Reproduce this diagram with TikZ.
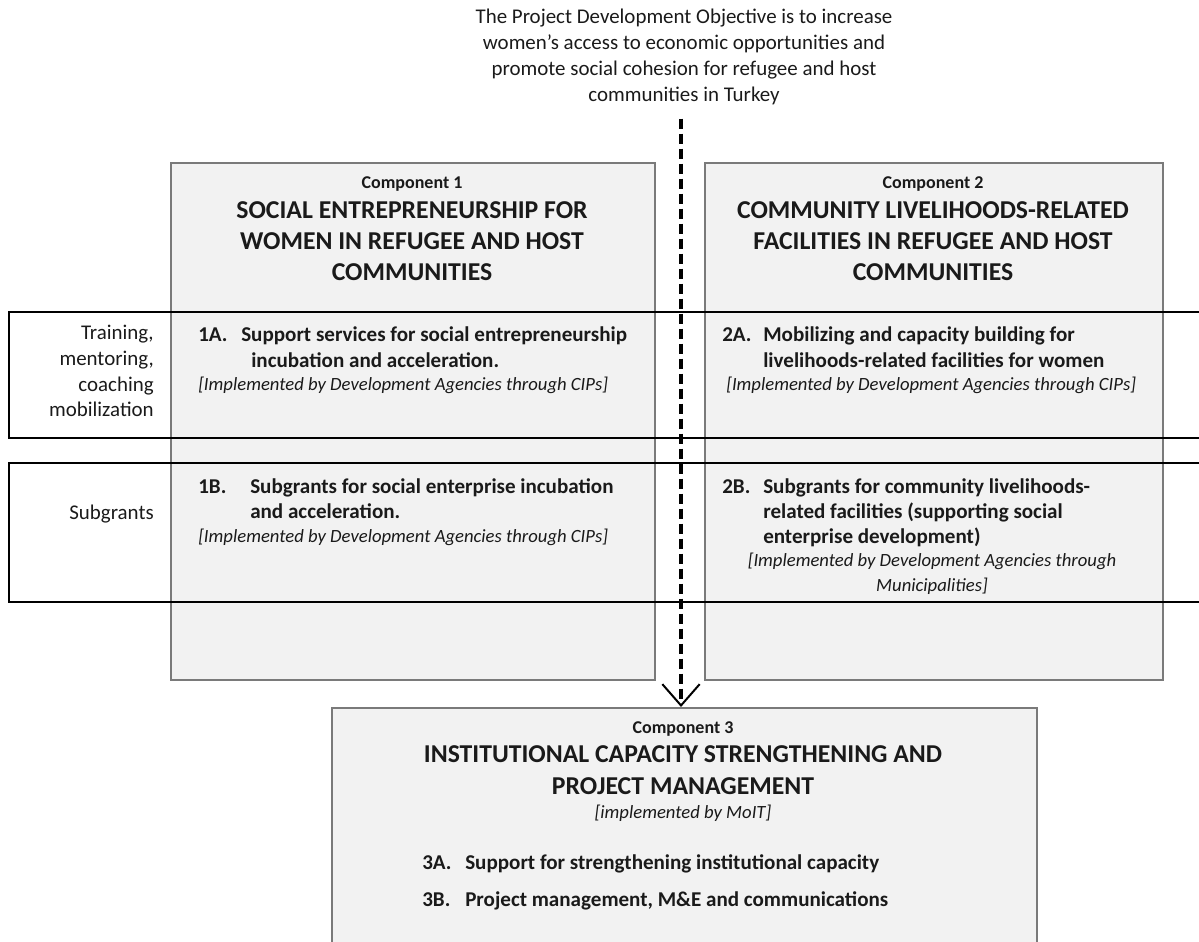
\documentclass[tikz,border=0pt]{standalone}
\usepackage{fontspec}
\setmainfont{Carlito}
\usetikzlibrary{arrows.meta}
\definecolor{boxfill}{HTML}{F2F2F2}
\definecolor{boxline}{HTML}{7A7A7A}
\definecolor{txt}{HTML}{1A1A1A}
\begin{document}
\begin{tikzpicture}[x=0.75pt,y=-0.75pt,
  compbox/.style={draw=boxline, fill=boxfill, line width=1.2pt, inner sep=0pt},
  band/.style={draw=black, line width=1.2pt},
  t/.style={inner sep=0pt, text=txt},
  fobj/.style={t, font=\fontsize{15.7}{19.5}\selectfont},
  fcomp/.style={t, font=\bfseries\fontsize{13.5}{16}\selectfont},
  ftitle/.style={t, font=\bfseries\fontsize{19.3}{23}\selectfont},
  fitem/.style={t, font=\bfseries\fontsize{15.8}{19.5}\selectfont},
  fital/.style={t, font=\itshape\fontsize{14}{17}\selectfont},
  flab/.style={t, font=\fontsize{15.7}{19.5}\selectfont},
  conn/.style={line width=2.4pt, dash pattern=on 7.5pt off 3.75pt},
  tip/.style={-{Straight Barb[length=16pt, width=28pt, line width=1.5pt]}}
]
\useasboundingbox (0,0) rectangle (1199,942);
\clip (0,0) rectangle (1199,942);

% component boxes
\node[compbox, anchor=north west, minimum width=363pt, minimum height=387.75pt] (c1) at (170,162) {};
\node[compbox, anchor=north west, minimum width=343.5pt, minimum height=387.75pt] (c2) at (704,162) {};
\node[compbox, anchor=north west, minimum width=528.75pt, minimum height=195pt] (c3) at (331,707) {};

% row bands
\draw[band] (9,312) rectangle (1215,438);
\draw[band] (9,463) rectangle (1215,602);

% objective
\node[fobj, anchor=base] (o1) at (684,24) {The Project Development Objective is to increase};
\node[fobj, anchor=base] (o2) at (684,50) {women’s access to economic opportunities and};
\node[fobj, anchor=base] (o3) at (684,75) {promote social cohesion for refugee and host};
\node[fobj, anchor=base] (obj) at (684,101) {communities in Turkey};

% component 1
\node[fcomp, anchor=base] (c1lab) at (412,188) {Component 1};
\node[ftitle, anchor=base] (c1t1) at (412,218.5) {SOCIAL ENTREPRENEURSHIP FOR};
\node[ftitle, anchor=base] (c1t2) at (412,249.5) {WOMEN IN REFUGEE AND HOST};
\node[ftitle, anchor=base] (c1t3) at (412,280.5) {COMMUNITIES};

% component 2
\node[fcomp, anchor=base] (c2lab) at (933,188) {Component 2};
\node[ftitle, anchor=base] (c2t1) at (933,218.5) {COMMUNITY LIVELIHOODS-RELATED};
\node[ftitle, anchor=base] (c2t2) at (933,249.5) {FACILITIES IN REFUGEE AND HOST};
\node[ftitle, anchor=base] (c2t3) at (933,280.5) {COMMUNITIES};

% left labels
\node[flab, anchor=base east] (l1) at (154,339) {Training,};
\node[flab, anchor=base east] (l2) at (154,365) {mentoring,};
\node[flab, anchor=base east] (l3) at (154,391) {coaching};
\node[flab, anchor=base east] (l4) at (154,416) {mobilization};
\node[flab, anchor=base east] (l5) at (154,519) {Subgrants};

% 1A
\node[fitem, anchor=base west] (n1a) at (198,341) {1A.};
\node[fitem, anchor=base west] (n1a1) at (241,341) {Support services for social entrepreneurship};
\node[fitem, anchor=base west] (n1a2) at (251,367) {incubation and acceleration.};
\node[fital, anchor=base west] (n1ai) at (198,390) {[Implemented by Development Agencies through CIPs]};

% 1B
\node[fitem, anchor=base west] (n1b) at (198,493) {1B.};
\node[fitem, anchor=base west] (n1b1) at (250,493) {Subgrants for social enterprise incubation};
\node[fitem, anchor=base west] (n1b2) at (250,518) {and acceleration.};
\node[fital, anchor=base west] (n1bi) at (198,542) {[Implemented by Development Agencies through CIPs]};

% 2A
\node[fitem, anchor=base west] (n2a) at (722,341) {2A.};
\node[fitem, anchor=base west] (n2a1) at (763,341) {Mobilizing and capacity building for};
\node[fitem, anchor=base west] (n2a2) at (763,367) {livelihoods-related facilities for women};
\node[fital, anchor=base west] (n2ai) at (726,390) {[Implemented by Development Agencies through CIPs]};

% 2B
\node[fitem, anchor=base west] (n2b) at (722,493) {2B.};
\node[fitem, anchor=base west] (n2b1) at (763,493) {Subgrants for community livelihoods-};
\node[fitem, anchor=base west] (n2b2) at (763,518) {related facilities (supporting social};
\node[fitem, anchor=base west] (n2b3) at (763,543) {enterprise development)};
\node[fital, anchor=base] (n2bi1) at (932,566) {[Implemented by Development Agencies through};
\node[fital, anchor=base] (n2bi2) at (932,591) {Municipalities]};

% component 3
\node[fcomp, anchor=base] (c3lab) at (683,733) {Component 3};
\node[ftitle, anchor=base] (c3t1) at (683,762.5) {INSTITUTIONAL CAPACITY STRENGTHENING AND};
\node[ftitle, anchor=base] (c3t2) at (683,794.5) {PROJECT MANAGEMENT};
\node[fital, anchor=base] (c3i) at (683,818) {[implemented by MoIT]};
\node[fitem, anchor=base west] (n3a) at (422,869) {3A.};
\node[fitem, anchor=base west] (n3a1) at (465,869) {Support for strengthening institutional capacity};
\node[fitem, anchor=base west] (n3b) at (422,906) {3B.};
\node[fitem, anchor=base west] (n3b1) at (465,906) {Project management, M\&E and communications};

% connector
\draw[conn, tip] ([shift={(-3,14)}]obj.south) -- ([shift={(-3,0)}]obj.south |- c3.north);
\end{tikzpicture}
\end{document}
